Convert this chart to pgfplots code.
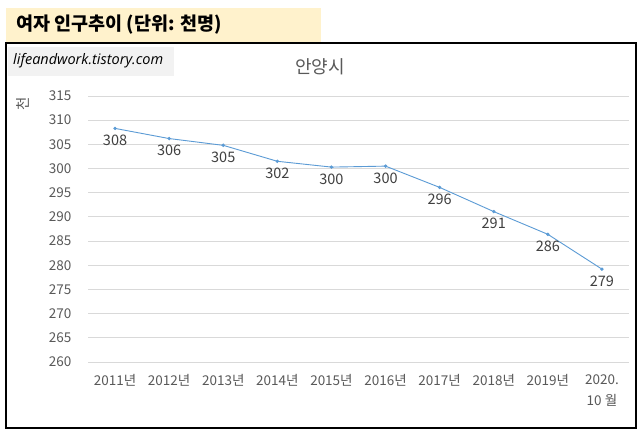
\documentclass[border=0pt]{standalone}
\usepackage{fontspec}
\setmainfont{Noto Sans CJK KR}
\newfontfamily\wmfont{Open Sans}
\usepackage{pgfplots}
\pgfplotsset{compat=1.18}
\definecolor{linec}{HTML}{5B9BD5}
\definecolor{tickgray}{HTML}{595959}
\definecolor{labelc}{HTML}{404040}
\definecolor{gridc}{HTML}{D9D9D9}
\definecolor{yellowbg}{HTML}{FFF2CC}
\definecolor{wmbg}{HTML}{F2F2F2}
\pgfplotstableread{
x y lab
0 308.3 308
1 306.2 306
2 304.8 305
3 301.5 302
4 300.3 300
5 300.5 300
6 296.1 296
7 291.1 291
8 286.4 286
9 279.2 279
}\anyang
\begin{document}
\begin{tikzpicture}[x=1pt,y=1pt]
\path[use as bounding box, fill=white] (0,0) rectangle (644,436);
\fill[yellowbg] (6,393) rectangle (321,428);
\draw[black, line width=1.2pt] (6,8) rectangle (636,393);
\fill[wmbg] (8,360) rectangle (174,389);
\node[anchor=west, inner sep=0pt, font=\wmfont\itshape\fontsize{14.5}{17}\selectfont] at (13,375) {lifeandwork.tistory.com};
\node[anchor=west, inner sep=0pt, font=\bfseries\fontsize{18.5}{22}\selectfont] at (16,411) {여자 인구추이 (단위: 천명)};
\node[text=tickgray, inner sep=0pt, font=\fontsize{18}{21}\selectfont] at (320,369) {안양시};
\node[rotate=90, inner sep=0pt, text=tickgray, font=\fontsize{14.5}{17}\selectfont] at (23,332) {천};
\begin{axis}[
  at={(88pt,74pt)}, anchor=south west, scale only axis,
  width=541pt, height=266pt,
  xmin=-0.5, xmax=9.5, ymin=260, ymax=315,
  ytick={260,265,...,315},
  xtick={0,...,9},
  xticklabels={2011년,2012년,2013년,2014년,2015년,2016년,2017년,2018년,2019년,{2020.\\[5pt]10 월}},
  axis line style={draw=none},
  major tick length=0pt,
  ymajorgrids, grid style={gridc, line width=0.9pt},
  /pgf/number format/assume math mode=true,
  tick label style={text=tickgray, font=\fontsize{13.5}{16}\selectfont},
  yticklabel style={anchor=east, xshift=-13pt},
  xticklabel style={anchor=north, align=center, yshift=-9pt},
  clip=false,
]
\addplot[linec, line width=0.9pt, mark=*, mark size=1.2pt,
  nodes near coords, point meta=explicit symbolic,
  every node near coord/.append style={anchor=north, text=labelc, font=\fontsize{14.5}{17}\selectfont, yshift=-3pt}]
  table[x=x, y=y, meta=lab] {\anyang};
\end{axis}
\end{tikzpicture}
\end{document}
